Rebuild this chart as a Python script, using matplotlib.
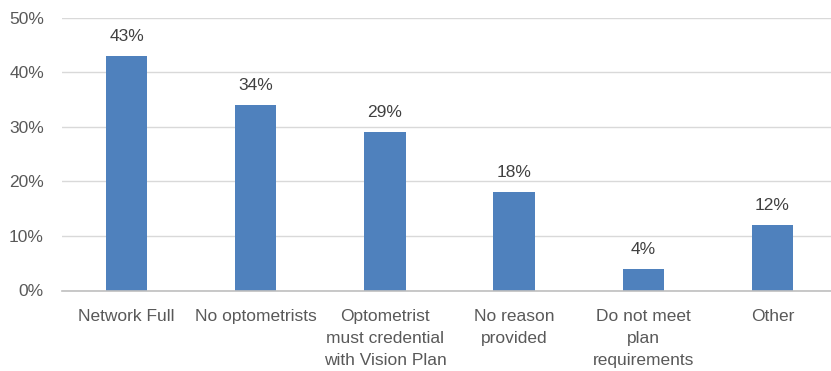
import matplotlib
matplotlib.use("Agg")
import matplotlib.pyplot as plt
from matplotlib.ticker import MultipleLocator, FuncFormatter

categories = [
    "Network Full",
    "No optometrists",
    "Optometrist\nmust credential\nwith Vision Plan",
    "No reason\nprovided",
    "Do not meet\nplan\nrequirements",
    "Other",
]
values = [43, 34, 29, 18, 4, 12]

plt.rcParams["font.family"] = ["Liberation Sans", "DejaVu Sans"]

fig = plt.figure(figsize=(8.31, 3.71), dpi=100)
ax = fig.add_axes([62 / 831, 1 - 290.5 / 371, 775 / 831, 273 / 371])

x = range(len(categories))
bars = ax.bar(x, values, width=0.32, color="#4f81bd", zorder=3)

for rect, v in zip(bars, values):
    ax.annotate(f"{v}%", (rect.get_x() + rect.get_width() / 2, v),
                xytext=(0, 8.5), textcoords="offset points",
                ha="center", va="bottom", fontsize=12.5, color="#404040")

ax.set_xlim(-0.5, len(categories) - 0.5)
ax.set_ylim(0, 50)
ax.yaxis.set_major_locator(MultipleLocator(10))
ax.yaxis.set_major_formatter(FuncFormatter(lambda v, p: f"{v:.0f}%"))
ax.grid(axis="y", color="#d9d9d9", linewidth=1, zorder=0)

ax.set_xticks(list(x))
ax.set_xticklabels(categories, linespacing=1.6)
ax.tick_params(axis="x", length=0, pad=13, labelsize=12.5, labelcolor="#595959")
ax.tick_params(axis="y", length=0, pad=13, labelsize=12.5, labelcolor="#595959")
for t in ax.get_xticklabels():
    t.set_verticalalignment("top")

for side in ["top", "right", "left"]:
    ax.spines[side].set_visible(False)
ax.spines["bottom"].set_color("#bfbfbf")
ax.spines["bottom"].set_linewidth(1.2)
ax.spines["bottom"].set_zorder(4)

fig.savefig("out.png", dpi=100, facecolor="white")
